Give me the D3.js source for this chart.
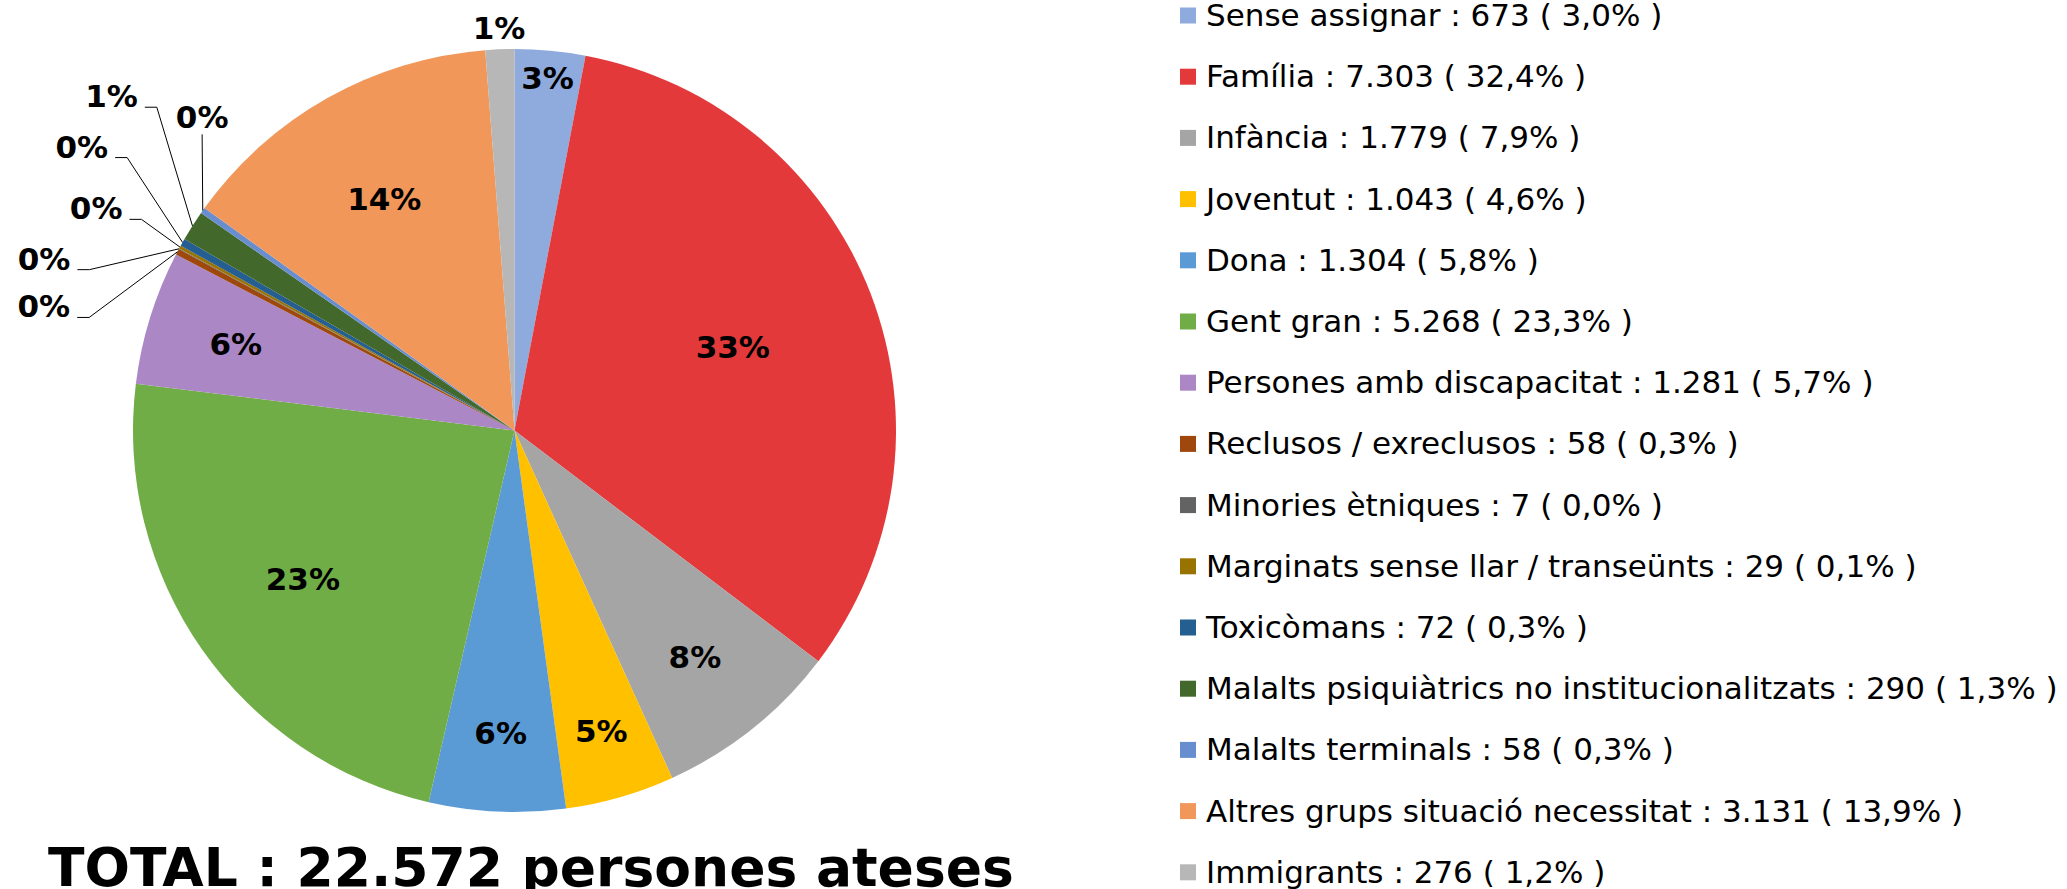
<!DOCTYPE html>
<html>
<head>
<meta charset="utf-8">
<script src="https://cdn.jsdelivr.net/npm/d3@7"></script>
<style>
  body { margin: 0; background: #fff; }
  text { font-family: "DejaVu Sans", Verdana, sans-serif; }
</style>
</head>
<body>
<svg id="pie-chart" width="2067" height="889"></svg>
<script>
// groups, in the order they run clockwise from 12 o'clock
var categories = [
  "Sense assignar", "Família", "Infància", "Joventut", "Dona", "Gent gran",
  "Persones amb discapacitat", "Reclusos / exreclusos", "Minories ètniques",
  "Marginats sense llar / transeünts", "Toxicòmans",
  "Malalts psiquiàtrics no institucionalitzats", "Malalts terminals",
  "Altres grups situació necessitat", "Immigrants"
];
var values = [673, 7303, 1779, 1043, 1304, 5268, 1281, 58, 7, 29, 72, 290, 58, 3131, 276];
var titleText = "TOTAL : 22.572 persones ateses";

var colors = ["#8FAADC", "#E3393B", "#A5A5A5", "#FFC000", "#5B9BD5", "#70AD47", "#AB87C5",
              "#9E480E", "#636363", "#997300", "#255E91", "#43682B", "#698ED0", "#F1975A", "#B7B7B7"];

// label placement: fraction of radius along the slice middle, or a dragged polar spot (with leader line)
var labelPlace = [
  {r: 0.928}, {r: 0.613}, {r: 0.758}, {r: 0.82}, {r: 0.794}, {r: 0.677}, {r: 0.765},
  {r: 1.276, a: 284.8, lead: true}, {r: 1.313, a: 290.1, lead: true}, {r: 1.242, a: 298.0, lead: true},
  {r: 1.357, a: 303.3, lead: true}, {r: 1.373, a: 309.7, lead: true}, {r: 1.16, a: 315.1, lead: true},
  {r: 0.696}, {r: 1.056}
];

var svg = d3.select("#pie-chart"),
    cx = 514.5, cy = 430.5, radius = 381.5;

var total = d3.sum(values);
var fmtInt = d3.formatLocale({decimal: ",", thousands: ".", grouping: [3], currency: ["", ""]}).format(",d");

// whole percentages that add up to 100 (largest remainder, like the spreadsheet does)
var raw = values.map(function(v) { return v / total * 100; });
var pct = raw.map(Math.round);
var diff = 100 - d3.sum(pct);
d3.range(values.length)
  .sort(function(a, b) { return (raw[b] - pct[b]) - (raw[a] - pct[a]); })
  .slice(0, Math.max(diff, 0))
  .forEach(function(i) { pct[i] += 1; });

var pie = d3.pie().sort(null).value(function(d) { return d; });
var arcs = pie(values);
var arc = d3.arc().innerRadius(0).outerRadius(radius);

var g = svg.append("g").attr("transform", "translate(" + cx + "," + cy + ")");

g.selectAll("path")
  .data(arcs)
  .enter().append("path")
    .attr("d", arc)
    .attr("fill", function(d, i) { return colors[i]; });

function polar(r, deg) {
  var a = deg * Math.PI / 180;
  return [r * Math.sin(a), -r * Math.cos(a)];
}

var fs = 31, capH = fs * 0.729;
var labels = g.append("g")
    .attr("font-size", fs)
    .attr("font-weight", "bold")
    .attr("text-anchor", "middle");

arcs.forEach(function(d, i) {
  var mid = (d.startAngle + d.endAngle) / 2 * 180 / Math.PI;
  var p = labelPlace[i];
  var pos = polar(p.r * radius, p.a == null ? mid : p.a);
  var t = labels.append("text")
      .attr("x", pos[0])
      .attr("y", pos[1] + capH / 2)
      .attr("fill", "#000")
      .text(pct[i] + "%");
  if (p.lead) {
    var w = t.node().getComputedTextLength();
    var rim = polar(radius, mid);
    var base = pos[1] + capH / 2;
    var pts;
    if (Math.abs(rim[0] - pos[0]) < w / 2) {
      pts = [[pos[0], base + 6], [rim[0], rim[1]]];
    } else {
      var x0 = pos[0] + w / 2 + 7;
      pts = [[x0, base], [x0 + 12, base], rim];
    }
    g.append("path")
      .attr("d", d3.line()(pts))
      .attr("fill", "none")
      .attr("stroke", "#000")
      .attr("stroke-width", 1);
  }
});

// legend
var ly = d3.scalePoint().domain(categories).range([15.5, 15.5 + 14 * 61.2]);

var legend = svg.append("g")
    .attr("font-size", 31)
  .selectAll("g")
  .data(categories)
  .enter().append("g")
    .attr("transform", function(d) { return "translate(1180," + ly(d) + ")"; });

legend.append("rect")
    .attr("y", -8)
    .attr("width", 16)
    .attr("height", 16)
    .attr("fill", function(d, i) { return colors[i]; });

legend.append("text")
    .attr("x", 26)
    .attr("y", 10.5)
    .attr("fill", "#000")
    .text(function(d, i) {
      return d + " : " + fmtInt(values[i]) + " ( " + raw[i].toFixed(1).replace(".", ",") + "% )";
    });

svg.append("text")
    .attr("x", 48)
    .attr("y", 886)
    .attr("font-size", 53.5)
    .attr("font-weight", "bold")
    .attr("fill", "#000")
    .text(titleText);
</script>
</body>
</html>
